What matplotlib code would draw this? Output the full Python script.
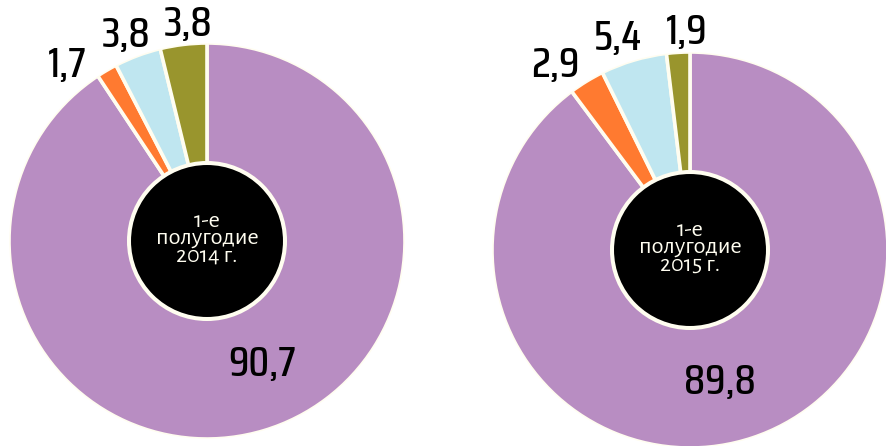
import matplotlib
matplotlib.use("Agg")
import matplotlib.pyplot as plt
from matplotlib.patches import Circle

# shares, %  (order clockwise from 12 o'clock)
values_2014 = [90.7, 1.7, 3.8, 3.8]
values_2015 = [89.8, 2.9, 5.4, 1.9]
labels_2014 = ["90,7", "1,7", "3,8", "3,8"]
labels_2015 = ["89,8", "2,9", "5,4", "1,9"]
center_texts = ["1-е\nполугодие\n2014 г.", "1-е\nполугодие\n2015 г."]

colors = ["#B88DC2", "#FF7A30", "#BFE6F0", "#99952D"]
edge = "#FFFDF0"

W, H = 886, 446
fig = plt.figure(figsize=(W / 100, H / 100), dpi=100)
ax = fig.add_axes([0, 0, 1, 1])

num_font = dict(family=["Saira Condensed", "DejaVu Sans"], fontsize=31,
                fontweight="medium", color="black")

# pie centre (px from top-left), radius, label positions (px from top-left)
layouts = [
    dict(c=(207, 241), r=198, pos=[(262, 364), (67, 65), (126, 35), (188, 24)]),
    dict(c=(690, 250), r=198, pos=[(720, 382), (555, 65), (618, 38), (687, 32)]),
]

for vals, labs, txt, lay in zip([values_2014, values_2015], [labels_2014, labels_2015],
                                center_texts, layouts):
    cx, cy = lay["c"][0], H - lay["c"][1]
    ax.pie(vals, colors=colors, startangle=90, counterclock=False,
           center=(cx, cy), radius=lay["r"], frame=True,
           wedgeprops=dict(edgecolor=edge, linewidth=2.6))
    # hide the cream edge on the outer rim
    ax.add_patch(Circle((cx, cy), lay["r"] + 1.5, facecolor="none", edgecolor="white",
                        linewidth=2.5, zorder=4))
    ax.add_patch(Circle((cx, cy), 78, facecolor="black", edgecolor=edge,
                        linewidth=2.9, zorder=5))
    ax.text(cx, cy + 3, txt, ha="center", va="center", color=edge,
            fontsize=17.5, family=["Alegreya Sans", "DejaVu Sans"], linespacing=0.8, zorder=6)
    for lab, (px, py) in zip(labs, lay["pos"]):
        ax.text(px, H - py, lab, ha="center", va="center", zorder=6, **num_font)

ax.set_xlim(0, W)
ax.set_ylim(0, H)
ax.set_aspect("equal")
ax.axis("off")
fig.savefig("out.png", dpi=100)
